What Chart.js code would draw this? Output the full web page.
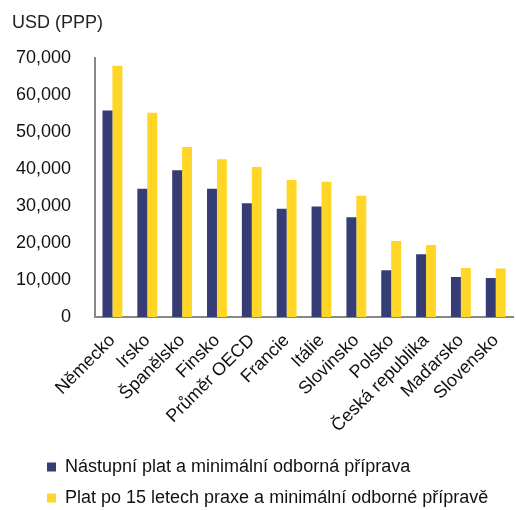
<!DOCTYPE html>
<html>
<head>
<meta charset="utf-8">
<script src="https://cdn.jsdelivr.net/npm/chart.js@4/dist/chart.umd.min.js"></script>
<style>
  html, body { margin: 0; padding: 0; background: #fff; }
  #wrap { width: 516px; height: 510px; }
</style>
</head>
<body>
<div id="wrap"><canvas id="c" width="516" height="510"></canvas></div>
<script>
const categories = ["Německo", "Irsko", "Španělsko", "Finsko", "Průměr OECD", "Francie", "Itálie", "Slovinsko", "Polsko", "Česká republika", "Maďarsko", "Slovensko"];
const seriesNames = ["Nástupní plat a minimální odborná příprava", "Plat po 15 letech praxe a minimální odborné přípravě"];
const startingSalary = [55700, 34600, 39600, 34600, 30700, 29200, 29800, 26900, 12600, 16900, 10800, 10500];
const salaryAfter15 = [67800, 55100, 45900, 42600, 40500, 37000, 36500, 32700, 20500, 19400, 13200, 13100];
const yTicks = [0, 10000, 20000, 30000, 40000, 50000, 60000, 70000];
const axisTitle = "USD (PPP)";

const FONT = "'Liberation Sans', Arial, sans-serif";

const legendShift = {
  id: 'legendShift',
  afterLayout(chart) {
    const lg = chart.legend;
    if (lg) {
      lg.left += 22;
      lg.top += 7;
      lg.bottom += 7;
    }
  }
};

new Chart(document.getElementById('c'), {
  type: 'bar',
  data: {
    labels: categories,
    datasets: [
      { label: seriesNames[0], data: startingSalary, backgroundColor: '#363C74', borderWidth: 0 },
      { label: seriesNames[1], data: salaryAfter15, backgroundColor: '#FFD626', borderWidth: 0 }
    ]
  },
  options: {
    responsive: false,
    animation: false,
    devicePixelRatio: 1,
    layout: { padding: { left: 12, right: 0, top: 0, bottom: 0 } },
    datasets: { bar: { categoryPercentage: 0.57, barPercentage: 1.0 } },
    plugins: {
      title: {
        display: true,
        text: axisTitle,
        align: 'start',
        color: '#222',
        font: { family: FONT, size: 18, weight: 'normal' },
        padding: { top: 12, bottom: 24 }
      },
      legend: {
        display: true,
        position: 'bottom',
        align: 'start',
        labels: {
          color: '#111',
          font: { family: FONT, size: 18 },
          boxWidth: 9,
          boxHeight: 9,
          padding: 13
        }
      },
      tooltip: { enabled: false }
    },
    scales: {
      x: {
        grid: { display: false },
        border: { display: true, color: '#888888', width: 2 },
        ticks: {
          color: '#111',
          font: { family: FONT, size: 18 },
          maxRotation: 45,
          minRotation: 45,
          autoSkip: false,
          padding: 5
        },
        afterFit(scale) { scale.height = 121; }
      },
      y: {
        min: 0,
        max: 70000,
        grid: { display: false },
        border: { display: true, color: '#888888', width: 2 },
        afterBuildTicks(scale) { scale.ticks = yTicks.map(v => ({ value: v })); },
        ticks: {
          color: '#111',
          font: { family: FONT, size: 18 },
          padding: 16,
          callback: (v) => Number(v).toLocaleString('en-US')
        },
        afterFit(scale) { scale.width = 83; }
      }
    }
  },
  plugins: [legendShift]
});
</script>
</body>
</html>
